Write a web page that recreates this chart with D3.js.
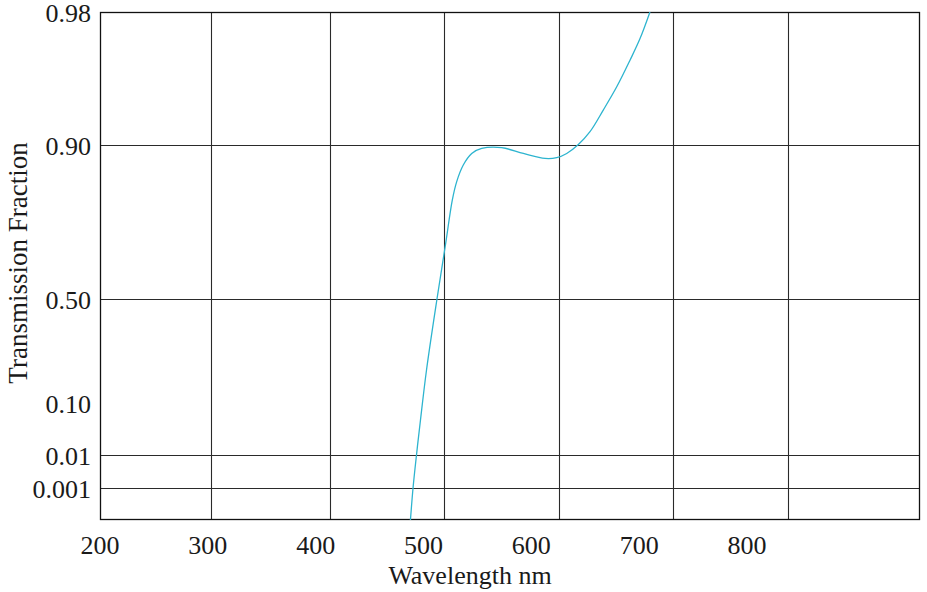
<!DOCTYPE html>
<html>
<head>
<meta charset="utf-8">
<script src="https://cdn.jsdelivr.net/npm/d3@7"></script>
<style>
body { margin: 0; background: #fff; }
text { font-family: "Liberation Serif", "DejaVu Serif", serif; fill: #1a1a1a; }
</style>
</head>
<body>
<div id="chart"></div>
<script>
// transmission curve
var wavelength   = [487.9, 490.3, 493.5, 497.2, 502.8, 512.5, 520.6, 526.7, 530.8, 536.9, 544.7, 554, 572.5, 592.6, 612.7, 623.5, 632.8, 643.6, 654.4, 666.7, 679.2, 691.5, 700.8, 710];
var transmission = [0.0001, 0.001, 0.01, 0.0706, 0.227, 0.5, 0.645, 0.757, 0.805, 0.848, 0.878, 0.891, 0.893, 0.878, 0.865, 0.867, 0.878, 0.9003, 0.908, 0.921, 0.935, 0.951, 0.964, 0.98];

// axis labels and grid positions
var xTicks = [200, 300, 400, 500, 600, 700, 800];
var xGrid  = [303, 413, 519, 626, 731, 838];
var yTicks = [0.98, 0.90, 0.50, 0.10, 0.01, 0.001];
var yTickLabels = ["0.98", "0.90", "0.50", "0.10", "0.01", "0.001"];
var yGrid  = [0.90, 0.50, 0.01, 0.001];
var yBreaks = [0.0001, 0.001, 0.01, 0.1, 0.5, 0.9, 0.98];

var margin = {top: 12, right: 7, bottom: 72, left: 100},
    width = 927 - margin.left - margin.right,
    height = 592 - margin.top - margin.bottom;

var svg = d3.select("#chart")
  .append("svg")
  .attr("width", 927)
  .attr("height", 592)
  .append("g")
  .attr("transform", "translate(" + margin.left + "," + margin.top + ")");

// x: labels are evenly spaced, 200 at the left edge
var x = d3.scaleLinear()
  .domain([200, 800])
  .range([0, 647]);

// y: piecewise scale of the printed transmission paper
var y = d3.scaleLinear()
  .domain(yBreaks)
  .range([508, 476, 443, 391, 287, 133, 0]);

// grid lines
svg.append("g")
  .selectAll("line.vx")
  .data(xGrid)
  .enter().append("line")
    .attr("x1", function(d) { return Math.round(x(d)) + 0.5; })
    .attr("x2", function(d) { return Math.round(x(d)) + 0.5; })
    .attr("y1", 0)
    .attr("y2", height)
    .attr("stroke", "#2a2a2a")
    .attr("stroke-width", 1.1);

svg.append("g")
  .selectAll("line.hy")
  .data(yGrid)
  .enter().append("line")
    .attr("x1", 0)
    .attr("x2", width)
    .attr("y1", function(d) { return Math.round(y(d)) + 0.5; })
    .attr("y2", function(d) { return Math.round(y(d)) + 0.5; })
    .attr("stroke", "#2a2a2a")
    .attr("stroke-width", 1.1);

// frame
svg.append("rect")
  .attr("x", 0.5)
  .attr("y", 0.5)
  .attr("width", width - 1)
  .attr("height", height - 1)
  .attr("fill", "none")
  .attr("stroke", "#111")
  .attr("stroke-width", 1.3);

// curve
svg.append("clipPath")
  .attr("id", "clip")
  .append("rect")
  .attr("width", width)
  .attr("height", height);

var line = d3.line()
  .x(function(d, i) { return x(wavelength[i]); })
  .y(function(d) { return y(d); })
  .curve(d3.curveCatmullRom.alpha(0.5));

svg.append("path")
  .datum(transmission)
  .attr("clip-path", "url(#clip)")
  .attr("fill", "none")
  .attr("stroke", "#2db4cf")
  .attr("stroke-width", 1.3)
  .attr("d", line);

// tick labels
svg.append("g")
  .selectAll("text")
  .data(xTicks)
  .enter().append("text")
    .attr("x", function(d) { return x(d); })
    .attr("y", height + 34)
    .attr("text-anchor", "middle")
    .style("font-size", "26px")
    .text(function(d) { return d; });

svg.append("g")
  .selectAll("text")
  .data(yTicks)
  .enter().append("text")
    .attr("x", -9)
    .attr("y", function(d) { return y(d) + 1; })
    .attr("dy", "0.35em")
    .attr("text-anchor", "end")
    .style("font-size", "26px")
    .text(function(d, i) { return yTickLabels[i]; });

// axis titles
svg.append("text")
  .attr("x", 370)
  .attr("y", height + 64)
  .attr("text-anchor", "middle")
  .style("font-size", "26px")
  .text("Wavelength nm");

svg.append("text")
  .attr("transform", "translate(" + (27 - margin.left) + "," + 251 + ") rotate(-90)")
  .attr("text-anchor", "middle")
  .style("font-size", "27px")
  .text("Transmission Fraction");
</script>
</body>
</html>
